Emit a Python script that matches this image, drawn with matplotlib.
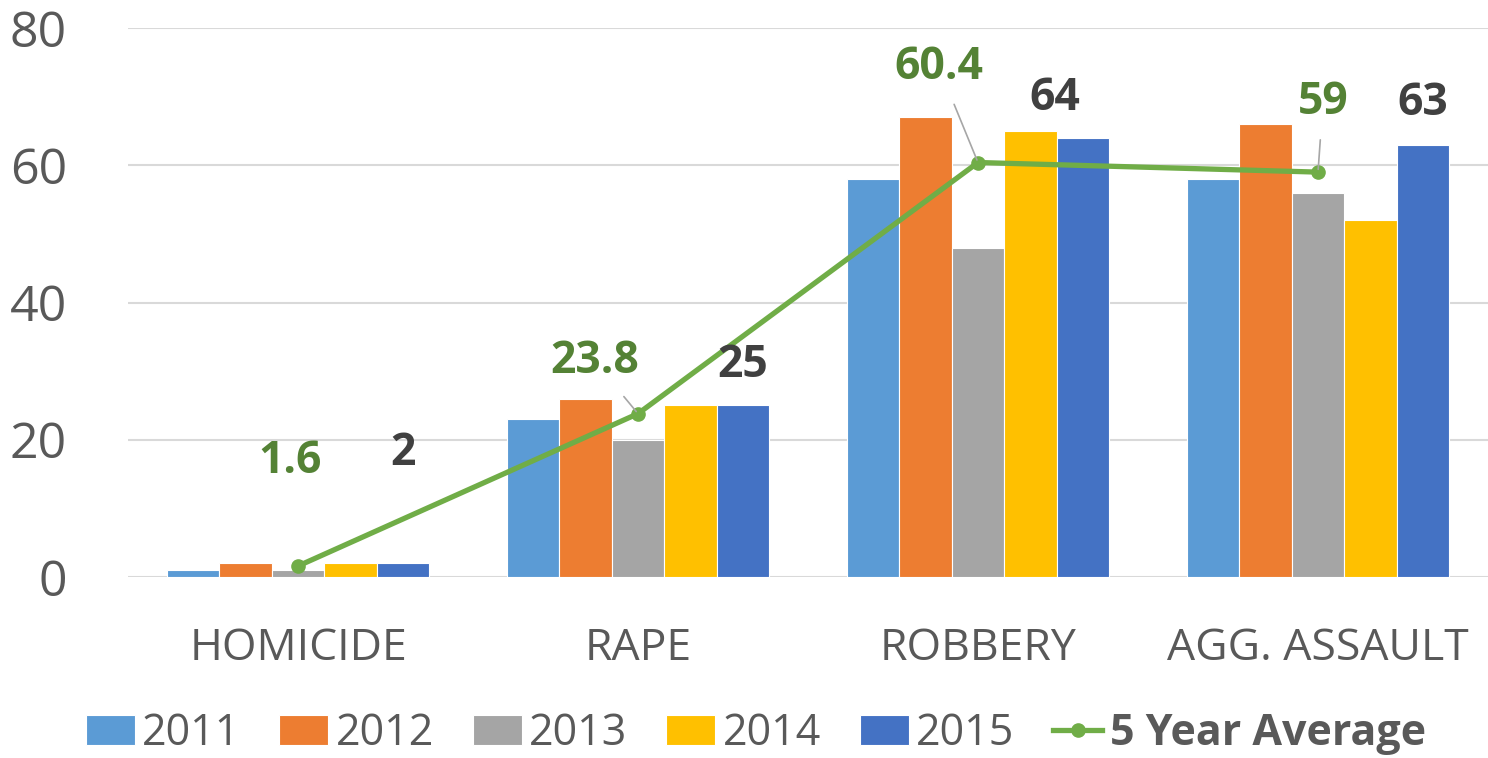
import matplotlib
matplotlib.use('Agg')
import matplotlib.pyplot as plt
import numpy as np

plt.rcParams['font.family'] = ['Open Sans', 'DejaVu Sans']

categories = ['HOMICIDE', 'RAPE', 'ROBBERY', 'AGG. ASSAULT']
years = ['2011', '2012', '2013', '2014', '2015']
v2011 = [1, 23, 58, 58]
v2012 = [2, 26, 67, 66]
v2013 = [1, 20, 48, 56]
v2014 = [2, 25, 65, 52]
v2015 = [2, 25, 64, 63]
avg = [1.6, 23.8, 60.4, 59]

series = [v2011, v2012, v2013, v2014, v2015]
colors = ['#5B9BD5', '#ED7D31', '#A5A5A5', '#FFC000', '#4472C4']
avg_color = '#70AD47'
avg_label_color = '#548235'
label_dark = '#404040'
tick_color = '#595959'

# label offsets in pixels (dx, dy) relative to the data point
avg_offsets = [(-8, 105), (-43, 52), (-39, 95), (5, 70)]
avg_leaders = [False, True, True, True]
top_offsets = [(0, 110), (0, 40), (-28, 39), (0, 41)]

fig = plt.figure(figsize=(14.88, 7.58), dpi=100)
ax = fig.add_axes([128 / 1488, (758 - 577) / 758, 1 - 128 / 1488, 549 / 758])

x = np.arange(len(categories))
bw = 0.154
bars = []
for i, (vals, col, yr) in enumerate(zip(series, colors, years)):
    b = ax.bar(x + (i - 2) * bw, vals, width=bw, color=col, edgecolor='white',
               linewidth=0.8, label=yr, zorder=2)
    bars.append(b)

line, = ax.plot(x, avg, color=avg_color, lw=3.8, marker='o', markersize=9.5,
                label='5 Year Average', zorder=4)

px = 72 / 100
for xi, val, (dx, dy), lead in zip(x, avg, avg_offsets, avg_leaders):
    ax.annotate(f'{val:g}', (xi, val), xytext=(dx * px, dy * px),
                textcoords='offset points', ha='center', va='center',
                fontsize=32, fontweight='bold', color=avg_label_color, zorder=5,
                arrowprops=dict(arrowstyle='-', color='#A6A6A6', lw=1.2,
                                shrinkA=9, shrinkB=2) if lead else None)

for xi, val, (dx, dy) in zip(x + 2 * bw, v2015, top_offsets):
    ax.annotate(f'{val:g}', (xi, val), xytext=(dx * px, dy * px),
                textcoords='offset points', ha='center', va='center',
                fontsize=32, fontweight='bold', color=label_dark, zorder=5)

ax.set_xlim(-0.5, 3.5)
ax.set_ylim(0, 80)
ax.set_yticks([0, 20, 40, 60, 80])
ax.set_xticks(x)
ax.set_xticklabels(categories)
ax.tick_params(axis='y', length=0, labelsize=36, labelcolor=tick_color, pad=44)
ax.tick_params(axis='x', length=0, labelsize=32, labelcolor=tick_color, pad=36)
ax.grid(axis='y', color='#D9D9D9', lw=1.5, zorder=0)
ax.set_axisbelow(True)
for s in ax.spines.values():
    s.set_visible(False)

handles = bars + [line]
labels = years + ['5 Year Average']
leg = fig.legend(handles, labels, loc='center', bbox_to_anchor=(0.508, 0.032), ncol=6,
                 frameon=False, fontsize=31, handlelength=1.13, handleheight=0.7,
                 handletextpad=0.18, columnspacing=0.9, labelcolor=tick_color,
                 borderaxespad=0)
leg.get_texts()[-1].set_fontweight('bold')

fig.savefig('out.png', dpi=100)
